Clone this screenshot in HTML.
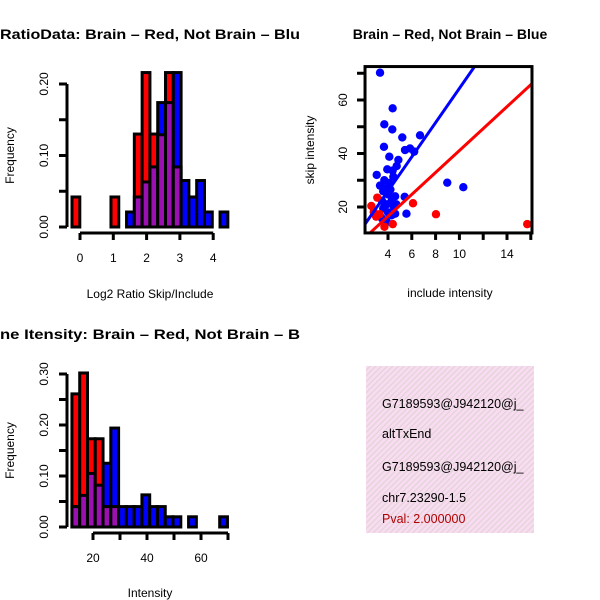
<!DOCTYPE html>
<html><head><meta charset="utf-8"><style>
html,body{margin:0;padding:0;background:#fff;}
svg{display:block;font-family:"Liberation Sans",Helvetica,Arial,sans-serif;}
</style></head><body>
<svg id="root" width="600" height="600" viewBox="0 0 600 600" xmlns="http://www.w3.org/2000/svg">
<defs>
<pattern id="hatch" patternUnits="userSpaceOnUse" width="4" height="4" patternTransform="rotate(45)">
<rect width="4" height="4" fill="#fadcf2"/><rect width="1.3" height="4" fill="#e2d4d8"/>
</pattern>
<clipPath id="clipL"><rect x="0" y="0" width="300" height="600"/></clipPath>
<clipPath id="clipR"><rect x="300" y="0" width="300" height="600"/></clipPath>
<clipPath id="clipBox"><rect x="366" y="366" width="168" height="167"/></clipPath>
</defs>
<g id="h1"></g>
<g id="sc"></g>
<g id="h3"></g>
<g clip-path="url(#clipBox)">
<rect x="366" y="366" width="168" height="167" fill="url(#hatch)"/>
<g font-size="12.5" fill="#000">
<text x="382" y="408">G7189593@J942120@j_</text>
<text x="382" y="438">altTxEnd</text>
<text x="382" y="471">G7189593@J942120@j_</text>
<text x="382" y="502">chr7.23290-1.5</text>
<text x="382" y="523" fill="#b00000">Pval: 2.000000</text>
</g>
</g>
</svg>
<script>
const h1Red=[0.042,0,0,0,0,0.042,0,0,0.130,0.216,0.130,0.129,0.216,0.084,0,0,0,0,0,0];
const h1Blue=[0,0,0,0,0,0,0,0.021,0.042,0.063,0.084,0.174,0.174,0.216,0.065,0.042,0.065,0.021,0,0.021];
const h1Start=-0.24, h1Bin=0.234;
const h1XTicks=[0,1,2,3,4];
const h1YTicks=[0,0.05,0.10,0.15,0.20];
const h1YLabels=["0.00","","0.10","","0.20"];

const h3Red=[0.261,0.302,0.173,0.173,0.04,0.04,0,0,0,0,0,0,0,0,0,0,0,0,0,0];
const h3Blue=[0.04,0.062,0.105,0.082,0.125,0.194,0.04,0.04,0.04,0.063,0.04,0.04,0.02,0.02,0,0.02,0,0,0,0.02];
const h3Start=12.2, h3Bin=2.88;
const h3XTicks=[20,30,40,50,60,70];
const h3XLabels=["20","","40","","60",""];
const h3YTicks=[0,0.05,0.10,0.15,0.20,0.25,0.30];
const h3YLabels=["0.00","","0.10","","0.20","","0.30"];

const blueX=[3.33,4.39,3.69,4.36,5.2,6.69,3.66,5.43,5.85,6.2,4.11,4.87,4.73,3.94,3.05,4.39,4.45,8.98,10.33,3.33,3.69,4.1,3.6,4.0,4.6,5.4,3.5,3.9,4.3,4.7,3.6,4.0,4.6,5.55,3.5,4.3,3.9,4.2,3.8,4.5];
const blueY=[70.2,56.9,50.9,49.0,46.0,46.8,42.5,41.3,41.9,40.7,38.8,37.6,35.3,34.1,32.0,33.6,31.3,29.1,27.4,28,30,29,25.9,24.7,24,23.8,22.3,21,22.3,21,19.5,18,17.5,17.5,15.7,16.9,14.4,26.5,27,20];
const redX=[2.6,3.1,6.1,8.03,15.7,4.4,3.7,3.0,3.3,2.8];
const redY=[20.4,23.5,21.4,17.3,13.6,13.6,12.6,16.4,17.3,18.2];
const blueFit=[0.35,6.4];
const redFit=[0.1,4.1];
const scXTicks=[4,6,8,10,12,14,16];
const scXLabels=["4","6","8","10","","14",""];
const scYTicks=[20,30,40,50,60,70];
const scYLabels=["20","","40","","60",""];

const NS="http://www.w3.org/2000/svg";
function mk(parent,tag,attrs,txt){const e=document.createElementNS(NS,tag);for(const k in attrs)e.setAttribute(k,attrs[k]);if(txt!==undefined)e.textContent=txt;parent.appendChild(e);return e;}

function hist(g,red,blue,start,bin,xs,ys,xTicks,xLabels,yTicks,yLabels,xAxisY,xAxisRange,yAxisX,yAxisRange,title,titleY,xlab,xlabY){
  g.setAttribute('clip-path','url(#clipL)');
  for(let i=0;i<red.length;i++){
    const r=red[i],b=blue[i];
    const x0=xs(start+i*bin),x1=xs(start+(i+1)*bin);
    const hi=Math.max(r,b),lo=Math.min(r,b);
    if(hi>0){
      const bar=mk(g,'rect',{x:x0,y:ys(hi),width:x1-x0,height:ys(0)-ys(hi),fill:r>=b?'#ff0000':'#0000ff',stroke:'#000','stroke-width':3});
      
      
    }
    if(lo>0){
      const ov=mk(g,'rect',{x:x0,y:ys(lo),width:x1-x0,height:ys(0)-ys(lo),fill:'#9a10b0',stroke:'#000','stroke-width':3});
      
      
    }
  }
  const xa=mk(g,'g',{});
  
  
  mk(xa,'line',{x1:xs(xAxisRange[0]),x2:xs(xAxisRange[1]),y1:xAxisY,y2:xAxisY,stroke:'#000','stroke-width':3});
  xTicks.forEach((t,i)=>{
    mk(xa,'line',{x1:xs(t),x2:xs(t),y1:xAxisY,y2:xAxisY+7,stroke:'#000','stroke-width':3});
    if(xLabels[i]){const tl=mk(xa,'text',{x:xs(t),y:xAxisY+29,'text-anchor':'middle','font-size':12},xLabels[i]);
    
    }
  });
  const ya=mk(g,'g',{});
  
  
  mk(ya,'line',{x1:yAxisX,x2:yAxisX,y1:ys(yAxisRange[0]),y2:ys(yAxisRange[1]),stroke:'#000','stroke-width':3});
  yTicks.forEach((t,i)=>{
    mk(ya,'line',{x1:yAxisX-8,x2:yAxisX,y1:ys(t),y2:ys(t),stroke:'#000','stroke-width':3});
    if(yLabels[i]){const tl=mk(ya,'text',{x:0,y:0,'text-anchor':'middle','font-size':12,transform:`translate(${yAxisX-19},${ys(t)}) rotate(-90)`},yLabels[i]);
    
    }
  });
  const yl=mk(g,'text',{x:0,y:0,'text-anchor':'middle','font-size':12,transform:`translate(14,${(ys(yAxisRange[0])+ys(yAxisRange[1]))/2}) rotate(-90)`},'Frequency');
  
  
  const xl=mk(g,'text',{x:150,y:xlabY,'text-anchor':'middle','font-size':12},xlab);
  
  
  const tt=mk(g,'text',{x:0,y:titleY,'font-size':14,'font-weight':'bold',textLength:300,lengthAdjust:'spacingAndGlyphs'},title);
  
  
}

(function(){
  const g=document.getElementById('h1');
  const xs=v=>80+v*33.3;
  const ys=v=>227-v*715;
  hist(g,h1Red,h1Blue,h1Start,h1Bin,xs,ys,h1XTicks,h1XTicks.map(String),h1YTicks,h1YLabels,233,[0,4],67,[0,0.20],'RatioData: Brain \u2013 Red, Not Brain \u2013 Blu',39,'Log2 Ratio Skip/Include',298);
})();
(function(){
  const g=document.getElementById('h3');
  const xs=v=>93+(v-20)*2.7;
  const ys=v=>527-v*510;
  hist(g,h3Red,h3Blue,h3Start,h3Bin,xs,ys,h3XTicks,h3XLabels,h3YTicks,h3YLabels,533,[20,70],67,[0,0.30],'ne Itensity: Brain \u2013 Red, Not Brain \u2013 B',339,'Intensity',597);
})();
(function(){
  const g=document.getElementById('sc');
  g.setAttribute('clip-path','url(#clipR)');
  const xs=v=>388+(v-4)*11.9;
  const ys=v=>207-(v-20)*2.675;
  const x0=2.07,x1=16.1,y0=10.3,y1=72.5;
  const pc=mk(g,'clipPath',{id:'plotclip'});
  mk(pc,'rect',{x:xs(x0),y:ys(y1),width:xs(x1)-xs(x0),height:ys(y0)-ys(y1)});
  const pts=mk(g,'g',{'clip-path':'url(#plotclip)'});
  blueX.forEach((x,i)=>{const c=mk(pts,'circle',{cx:xs(x),cy:ys(blueY[i]),r:4.2,fill:'#0000ff'});
    
    });
  redX.forEach((x,i)=>{const c=mk(pts,'circle',{cx:xs(x),cy:ys(redY[i]),r:4.2,fill:'#ff0000'});
    
    });
  const bl=mk(pts,'line',{x1:xs(x0),y1:ys(blueFit[0]+blueFit[1]*x0),x2:xs(x1),y2:ys(blueFit[0]+blueFit[1]*x1),stroke:'#0000ff','stroke-width':3});
  
  
  const rl=mk(pts,'line',{x1:xs(x0),y1:ys(redFit[0]+redFit[1]*x0),x2:xs(x1),y2:ys(redFit[0]+redFit[1]*x1),stroke:'#ff0000','stroke-width':3});
  
  
  const fr=mk(g,'rect',{x:xs(x0),y:ys(y1),width:xs(x1)-xs(x0),height:ys(y0)-ys(y1),fill:'none',stroke:'#000','stroke-width':3});
  
  
  scXTicks.forEach((t,i)=>{
    mk(g,'line',{x1:xs(t),x2:xs(t),y1:ys(y0),y2:ys(y0)+7,stroke:'#000','stroke-width':3});
    if(scXLabels[i]){const tl=mk(g,'text',{x:xs(t),y:ys(y0)+25,'text-anchor':'middle','font-size':12},scXLabels[i]);
    
    }
  });
  scYTicks.forEach((t,i)=>{
    mk(g,'line',{x1:xs(x0)-8,x2:xs(x0),y1:ys(t),y2:ys(t),stroke:'#000','stroke-width':3});
    if(scYLabels[i]){const tl=mk(g,'text',{x:0,y:0,'text-anchor':'middle','font-size':12,transform:`translate(${xs(x0)-18},${ys(t)}) rotate(-90)`},scYLabels[i]);
    
    }
  });
  const yl=mk(g,'text',{x:0,y:0,'text-anchor':'middle','font-size':12,transform:`translate(314,150) rotate(-90)`},'skip intensity');
  
  
  const xl=mk(g,'text',{x:450,y:297,'text-anchor':'middle','font-size':12},'include intensity');
  
  
  const tt=mk(g,'text',{x:450,y:39,'text-anchor':'middle','font-size':14,'font-weight':'bold'},'Brain \u2013 Red, Not Brain \u2013 Blue');
  
  
})();
</script>
</body></html>
